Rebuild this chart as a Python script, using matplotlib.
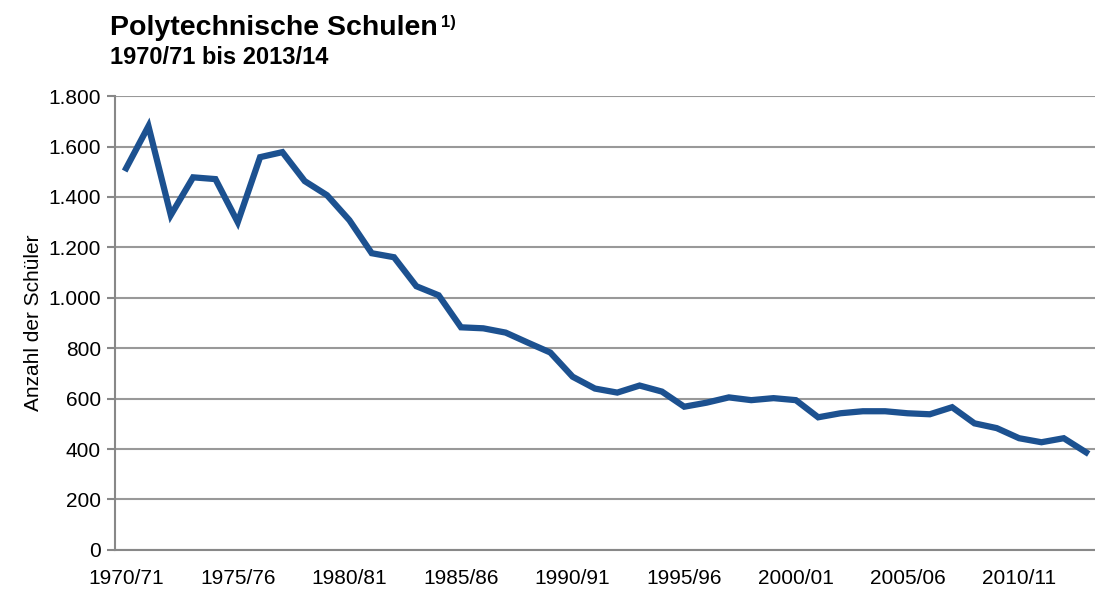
import matplotlib
matplotlib.use('Agg')
import matplotlib.pyplot as plt
from matplotlib.ticker import FuncFormatter

plt.rcParams['font.family'] = ['Liberation Sans', 'DejaVu Sans']

# Schuljahre 1970/71 .. 2013/14
years = list(range(1970, 2014))
schueler = [1514, 1681, 1328, 1478, 1471, 1300, 1558, 1578, 1463, 1407,
            1308, 1177, 1161, 1046, 1010, 883, 879, 862, 822, 783,
            687, 640, 624, 652, 628, 568, 584, 605, 594, 602,
            594, 526, 542, 550, 550, 542, 538, 566, 502, 483,
            443, 427, 443, 387]
tick_years = [1970, 1975, 1980, 1985, 1990, 1995, 2000, 2005, 2010]
tick_labels = [f'{y}/{str(y + 1)[-2:]}' for y in tick_years]

fig = plt.figure(figsize=(10.95, 5.9), dpi=100)
ax = fig.add_axes([0.105, 0.068, 0.895, 0.769])

x = list(range(len(years)))
ax.plot(x, schueler, color='#1c5190', lw=4.5, solid_joinstyle='miter', zorder=3)

ax.set_xlim(-0.5, 43.4)
ax.set_ylim(0, 1800)
ax.set_yticks(range(0, 1801, 200))
ax.yaxis.set_major_formatter(FuncFormatter(lambda v, p: f'{int(v):,}'.replace(',', '.')))
ax.set_xticks([years.index(y) for y in tick_years])
ax.set_xticklabels(tick_labels)

ax.grid(axis='y', color='#999999', lw=1.5, zorder=1)
for s in ['top', 'right']:
    ax.spines[s].set_visible(False)
for s in ['left', 'bottom']:
    ax.spines[s].set_color('#888888')
    ax.spines[s].set_linewidth(1.5)
ax.tick_params(axis='y', length=6, width=1.5, color='#888888', labelsize=15, pad=4)
ax.tick_params(axis='x', length=0, labelsize=15, pad=14)

ax.set_ylabel('Anzahl der Schüler', fontsize=15, labelpad=4)

fig.text(0.1, 0.94, 'Polytechnische Schulen', fontsize=20.5, fontweight='bold')
fig.text(0.403, 0.955, '1)', fontsize=12, fontweight='bold')
fig.text(0.1, 0.892, '1970/71 bis 2013/14', fontsize=17, fontweight='bold')

plt.savefig('out.png', dpi=100, facecolor='white')
plt.close()
